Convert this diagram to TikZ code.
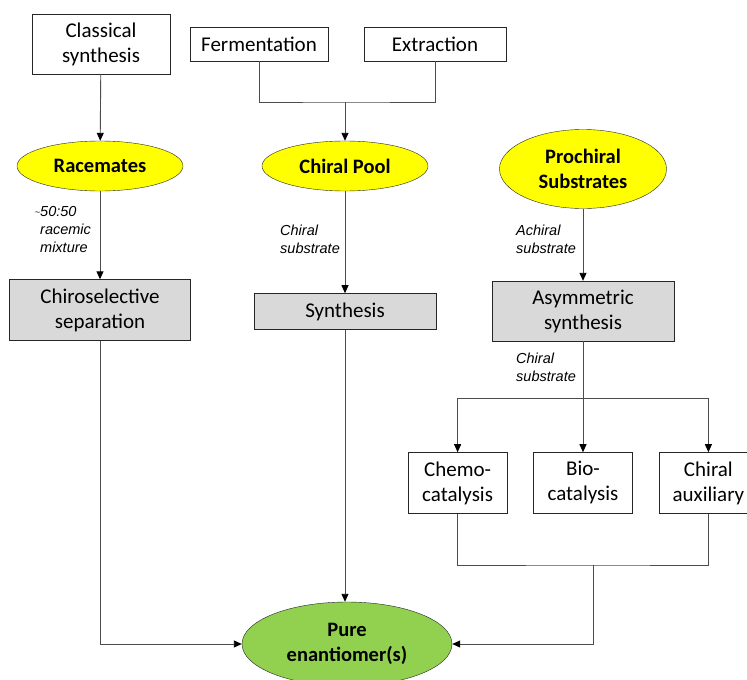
\documentclass[tikz,border=0pt]{standalone}
\usepackage{fontspec}
\setmainfont{Carlito}
\newfontfamily\notefont{Liberation Sans}
\usetikzlibrary{arrows.meta,positioning,shapes.geometric}
\definecolor{boxgray}{HTML}{D9D9D9}
\definecolor{poolyellow}{HTML}{FFFF00}
\definecolor{goalgreen}{HTML}{92D050}

\begin{document}
\begin{tikzpicture}[x=1pt,y=1pt,
        every node/.style={font=\fontsize{21}{25}\selectfont, align=center, inner sep=2pt},
        source/.style={draw=black!85, rectangle, fill=white},
        process/.style={draw=black!85, rectangle, fill=boxgray},
        catalyst/.style={source, minimum width=99pt, minimum height=61pt},
        pool/.style={draw=black!85, ellipse, fill=poolyellow, font=\fontsize{20.5}{25}\selectfont\bfseries},
        goal/.style={draw=black!85, ellipse, fill=goalgreen, font=\fontsize{20.5}{25}\selectfont\bfseries},
        note/.style={font=\notefont\itshape\fontsize{14.5}{18}\selectfont, align=left, inner sep=0pt, anchor=west},
        link/.style={draw=black!70, line width=0.9pt},
        arrow/.style={link, -{Triangle[length=8pt,width=7pt,color=black]}}]
                \useasboundingbox (0,0) rectangle (747,-680);
                \clip (0,0) rectangle (747,-680);
                % sources
                \node[source, minimum width=138pt, minimum height=60pt] (classical) at (101,-44) {Classical\\synthesis};
                \node[source, minimum width=138pt, minimum height=34pt] (ferment) at (259,-44) {Fermentation};
                \node[source, minimum width=142pt, minimum height=34pt] (extract) at (435,-44) {Extraction};
                % starting materials
                \node[pool, minimum width=166pt, minimum height=50pt] (racemates) at (100,-166) {Racemates};
                \node[pool, minimum width=166pt, minimum height=50pt] (chiralpool) at (345,-166) {Chiral Pool};
                \node[pool, minimum width=167pt, minimum height=79pt] (prochiral) at (583,-169) {Prochiral\\Substrates};
                % processes
                \node[process, minimum width=181pt, minimum height=61pt] (chiro) at (100,-310) {Chiroselective\\separation};
                \node[process, minimum width=182pt, minimum height=36pt] (synth) [below=102pt of chiralpool] {Synthesis};
                \node[process, minimum width=182pt, minimum height=60pt] (asym) at (583,-311) {Asymmetric\\synthesis};
                \node[catalyst] (bio) [below=111pt of asym] {Bio-\\catalysis};
                \node[catalyst] (chemo) [left=26pt of bio] {Chemo-\\catalysis};
                \node[catalyst] (aux) [right=26pt of bio] {Chiral\\auxiliary};
                \node[goal, minimum width=210pt, minimum height=84pt] (pure) at (347,-644) {Pure\\enantiomer(s)};
                % edge notes
                \node[note] (ratio) at (40,-230) {\llap{\raisebox{1pt}{\fontsize{9}{9}\selectfont\char126}}50:50\\racemic\\mixture};
                \node[note] (poolnote) at (280,-239) {Chiral\\substrate};
                \node[note] (achiral) at (516,-239) {Achiral\\substrate};
                \node[note] (chiralsub) at (516,-367) {Chiral\\substrate};
                % forks
                \coordinate (poolfork) at (345,-102);
                \coordinate (catfork) at (583,-398);
                \coordinate (mergefork) at (593,-565);

                \draw[arrow] (classical) -- (racemates);
                \draw[link] (ferment) |- (poolfork) -| (extract);
                \draw[arrow] (poolfork) -- (chiralpool);
                \draw[arrow] (racemates) -- (chiro);
                \draw[arrow] (chiralpool) -- (synth);
                \draw[arrow] (prochiral) -- (asym);
                \draw[link] (asym) -- (catfork);
                \draw[arrow] (catfork) -| (chemo);
                \draw[arrow] (catfork) -- (bio);
                \draw[arrow] (catfork) -| (aux);
                \draw[link] (chemo) |- (mergefork) -| (aux);
                \draw[arrow] (mergefork) |- (pure);
                \draw[arrow] (chiro) |- (pure);
                \draw[arrow] (synth) -- (synth |- pure.north);
\end{tikzpicture}
\end{document}
